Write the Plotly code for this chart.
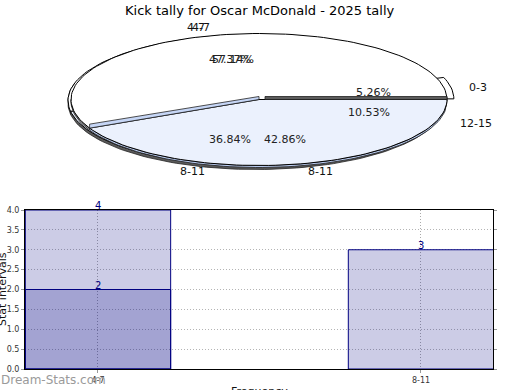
import numpy as np
import plotly.graph_objects as go

# ---------------- data ----------------
title_text = "Kick tally for Oscar McDonald - 2025 tally"
pie1_labels = ["0-3", "4-7", "8-11", "12-15"]
pie1_values = [5.26, 47.37, 36.84, 10.53]
pie2_labels = ["4-7", "8-11"]
pie2_values = [57.14, 42.86]

bar_categories = ["4-7", "8-11"]
bar_series_a = [4, 3]
bar_series_b = [2, None]
y_ticks = [0.0, 0.5, 1.0, 1.5, 2.0, 2.5, 3.0, 3.5, 4.0]

# ---------------- geometry / style ----------------
W, H = 520, 390
CX, CY, RX, RY = 259, 99.5, 188, 66
FONT = "DejaVu Sans"
pie1_colors = ["#ffffff", "#ffffff", "#ebf1fd", "#ebf1fd"]
pie2_colors = ["#ffffff", "#ebf1fd"]

fig = go.Figure()


def arc(a0, a1, cx, cy, k=1.0, n=None):
    if n is None:
        n = max(4, int(abs(a1 - a0) / 2) + 2)
    a = np.radians(np.linspace(a0, a1, n))
    return cx + RX * k * np.cos(a), cy - RY * k * np.sin(a)


def poly(xs, ys, fill, line="#000000", lw=1):
    fig.add_trace(go.Scatter(x=list(xs), y=list(ys), mode="lines", fill="toself",
                             fillcolor=fill, line=dict(color=line, width=lw),
                             xaxis="x2", yaxis="y2", hoverinfo="skip", showlegend=False))


def slices(values):
    tot = sum(values)
    out, a = [], 0.0
    for v in values:
        span = 360.0 * v / tot
        out.append((a, a + span))
        a += span
    return out


def wall(a0, a1, cx, cy, depth, fill, lo_lim=180):
    lo, hi = max(a0, lo_lim), min(a1, 360)
    if hi <= lo:
        return
    xt, yt = arc(lo, hi, cx, cy)
    xb, yb = arc(hi, lo, cx, cy + depth)
    poly(np.r_[xt, xb, xt[0]], np.r_[yt, yb, yt[0]], fill, "#222222", 0.8)


# ---- pie 1 (underneath) ----
p1 = slices(pie1_values)
c1x, c1y = CX - 3, CY + 1
for (a0, a1), col, lab in zip(p1, pie1_colors, pie1_labels):
    mid = np.radians((a0 + a1) / 2)
    ex = 10 if lab == "0-3" else 0
    ox, oy = c1x + ex * np.cos(mid), c1y - ex * np.sin(mid)
    wall(a0, a1, ox, oy, 3, "#5a5a5a", lo_lim=165)
for (a0, a1), col, lab in zip(p1, pie1_colors, pie1_labels):
    mid = np.radians((a0 + a1) / 2)
    ex = 10 if lab == "0-3" else 0
    ox, oy = c1x + ex * np.cos(mid), c1y - ex * np.sin(mid)
    xs, ys = arc(a0, a1, ox, oy)
    poly(np.r_[ox, xs, ox], np.r_[oy, ys, oy], col)

# ---- pie 2 (on top) ----
p2 = slices(pie2_values)
wall_cols = ["#9a9a9a", "#b9cbef"]
for (a0, a1), wc in zip(p2, wall_cols):
    wall(a0, a1, CX, CY, 2, wc)
for (a0, a1), col in zip(p2, pie2_colors):
    xs, ys = arc(a0, a1, CX, CY)
    poly(np.r_[CX, xs, CX], np.r_[CY, ys, CY], col)
# cut faces (thin strips)
b = p2[0][1]
ex_, ey_ = arc(b, b, CX, CY, n=1)
poly([CX, ex_[0], ex_[0], CX, CX], [CY, ey_[0], ey_[0] - 4, CY - 3, CY], "#c6d6f6", "#222222", 0.8)
poly([CX + 6, CX + RX, CX + RX, CX + 6, CX + 6], [CY - 3, CY - 3, CY, CY, CY - 3], "#5c5c5c", "#222222", 0.8)

# ---- pie labels ----
ann = []
for vals, labs in ((pie1_values, pie1_labels), (pie2_values, pie2_labels)):
    for (a0, a1), v, lab in zip(slices(vals), vals, labs):
        m = np.radians((a0 + a1) / 2)
        px, py = CX + RX * 0.62 * np.cos(m), CY - RY * 0.62 * np.sin(m)
        ann.append(dict(x=px / W, y=1 - py / H, xref="paper", yref="paper",
                        text=f"{v:.2f}%", showarrow=False,
                        xanchor="center", yanchor="middle",
                        font=dict(size=11, color="#222222", family=FONT)))
        qx, qy = CX + RX * 1.12 * np.cos(m), CY - RY * 1.12 * np.sin(m)
        ann.append(dict(x=qx / W, y=1 - qy / H, xref="paper", yref="paper",
                        text=lab, showarrow=False,
                        xanchor="left" if np.cos(m) > 0 else "right", yanchor="middle",
                        font=dict(size=11, color="#111111", family=FONT)))

# ---------------- bars ----------------
navy = "#000080"
fig.add_trace(go.Bar(x=bar_categories, y=bar_series_a, width=0.45,
                     marker=dict(color="rgba(0,0,128,0.2)", line=dict(color=navy, width=1)),
                     showlegend=False, hoverinfo="skip"))
fig.add_trace(go.Bar(x=bar_categories, y=bar_series_b, width=0.45,
                     marker=dict(color="rgba(0,0,128,0.2)", line=dict(color=navy, width=1)),
                     showlegend=False, hoverinfo="skip"))
for series in (bar_series_a, bar_series_b):
    for c, v in zip(bar_categories, series):
        if v is None:
            continue
        ann.append(dict(x=c, y=v, xref="x", yref="y", text=str(v), showarrow=False,
                        xanchor="center", yanchor="bottom", yshift=-3,
                        font=dict(size=10, color=navy, family=FONT)))

ann += [
    dict(x=2 / W, y=1 - 289 / H, xref="paper", yref="paper", text="Stat intervals",
         textangle=-90, showarrow=False, xanchor="center", yanchor="middle",
         font=dict(size=11, color="#111111", family=FONT)),
    dict(x=259 / W, y=1 - 383 / H, xref="paper", yref="paper", text="Frequency",
         showarrow=False, xanchor="center", yanchor="top",
         font=dict(size=11, color="#111111", family=FONT)),
    dict(x=-1 / W, y=1 - 380 / H, xref="paper", yref="paper", text="Dream-Stats.com",
         showarrow=False, xanchor="left", yanchor="middle",
         font=dict(size=12, color="#9a9a9a", family=FONT)),
    dict(x=0.5, y=1 - 10 / H, xref="paper", yref="paper", text=title_text,
         showarrow=False, xanchor="center", yanchor="middle",
         font=dict(size=13, color="#000000", family=FONT)),
]

fig.update_layout(
    width=W, height=H, margin=dict(l=0, r=0, t=0, b=0, autoexpand=False),
    paper_bgcolor="white", plot_bgcolor="rgba(0,0,0,0)", barmode="overlay",
    font=dict(family=FONT),
    annotations=ann,
    xaxis=dict(domain=[25 / W, 493 / W], range=[-0.226, 1.223], type="category",
               showline=True, linecolor="#000000", mirror=True, ticks="outside",
               ticklen=3, tickcolor="#999999", automargin=False,
               showgrid=True, gridcolor="#aaaaaa", griddash="1px,2px", gridwidth=1,
               tickfont=dict(size=8, color="#333333"), zeroline=False),
    yaxis=dict(domain=[1 - 369 / H, 1 - 210 / H], range=[0, 4], tickvals=y_ticks,
               tickformat=".1f", showline=True, linecolor="#000000", mirror="ticks",
               ticks="outside", ticklen=3, tickcolor="#999999", automargin=False,
               showgrid=True, gridcolor="#b4b4b4", griddash="1px,2px", gridwidth=1,
               tickfont=dict(size=8, color="#333333"), zeroline=False),
    xaxis2=dict(domain=[0, 1], range=[0, W], visible=False, fixedrange=True, automargin=False),
    yaxis2=dict(domain=[0, 1], range=[H, 0], visible=False, fixedrange=True, automargin=False),
)

fig.write_html("out.html")
